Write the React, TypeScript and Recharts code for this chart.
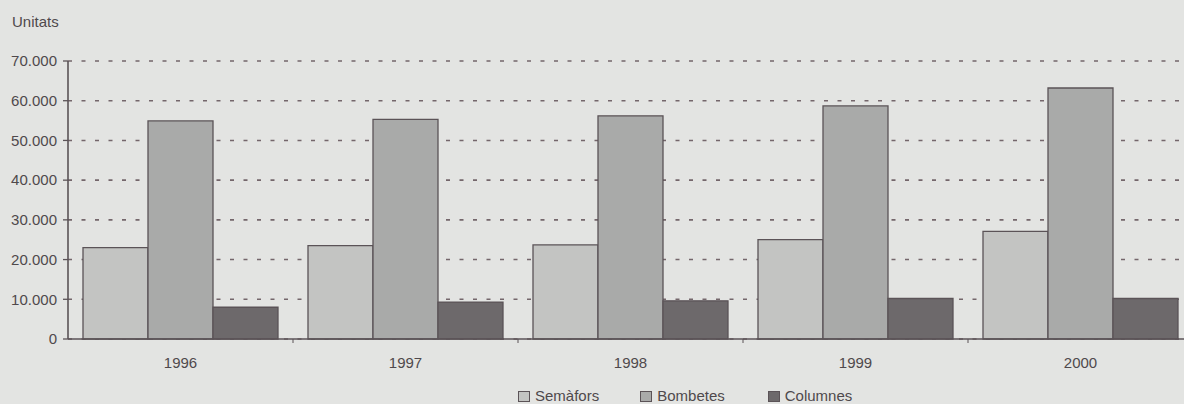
import React from 'react';
import { BarChart, Bar, XAxis, YAxis, CartesianGrid, Legend, Label } from 'recharts';

const years = ['1996', '1997', '1998', '1999', '2000'];
const semafors = [23000, 23500, 23700, 25000, 27100];
const bombetes = [54900, 55300, 56200, 58700, 63200];
const columnes = [8000, 9300, 9600, 10200, 10200];
const yTicks = [0, 10000, 20000, 30000, 40000, 50000, 60000, 70000];

const seriesNames = ['Semàfors', 'Bombetes', 'Columnes'];
const colors = ['#c3c4c2', '#a9aaa9', '#6d696b'];

const data = years.map((y, i) => ({
  year: y,
  s: semafors[i],
  b: bombetes[i],
  c: columnes[i],
}));

const BG = '#e3e4e2';
const INK = '#4f494c';
const STROKE = '#5b5357';
const FONT = '"Liberation Sans", Arial, Helvetica, sans-serif';

const fmt = (v: number) => String(v).replace(/\B(?=(\d{3})+(?!\d))/g, '.');

const XTick = (props: any) => {
  const { x, y, payload, width } = props;
  const half = width ? width / years.length / 2 : 112.5;
  return (
    <g>
      <text x={x} y={y + 29} textAnchor="middle" fill={INK} fontSize={15} fontFamily={FONT}>
        {payload.value}
      </text>
      <line x1={x + half} x2={x + half} y1={y} y2={y + 4} stroke={STROKE} strokeWidth={1} />
    </g>
  );
};

const LegendContent = () => (
  <div style={{ display: 'flex', alignItems: 'center', fontFamily: FONT, fontSize: 15, lineHeight: '14px', color: INK }}>
    {seriesNames.map((n, i) => (
      <div key={n} style={{ display: 'flex', alignItems: 'center', marginRight: i === 0 ? 41 : 43 }}>
        <span
          style={{
            display: 'inline-block',
            width: 12,
            height: 11,
            background: colors[i],
            border: `1px solid ${STROKE}`,
            boxSizing: 'border-box',
            marginRight: 5,
          }}
        />
        <span>{n}</span>
      </div>
    ))}
  </div>
);

export default function App() {
  return (
    <div style={{ position: 'absolute', left: 0, top: 0, width: 1184, height: 404, overflow: 'hidden', background: BG }}>
      <BarChart
        width={1200}
        height={404}
        data={data}
        margin={{ top: 61, right: 7, bottom: 35, left: 0 }}
        barCategoryGap={15}
        barGap={0}
      >
        <CartesianGrid vertical={false} stroke="#74666b" strokeWidth={1.6} strokeDasharray="4 9.5" />
        <XAxis
          dataKey="year"
          height={30}
          tickLine={false}
          tickSize={0}
          tickMargin={0}
          axisLine={{ stroke: STROKE, strokeWidth: 1.6 }}
          tick={<XTick />}
          interval={0}
        />
        <YAxis
          width={68}
          domain={[0, 70000]}
          ticks={yTicks}
          tickFormatter={fmt}
          tickSize={5}
          tickMargin={6}
          axisLine={{ stroke: STROKE, strokeWidth: 1.6 }}
          tickLine={{ stroke: STROKE, strokeWidth: 1.3 }}
          tick={{ fill: INK, fontSize: 15, fontFamily: FONT }}
          interval={0}
        >
          <Label
            content={(p: any) => (
              <text x={12} y={(p.viewBox?.y ?? 61) - 34} fill={INK} fontSize={15} fontFamily={FONT}>
                Unitats
              </text>
            )}
          />
        </YAxis>
        <Legend
          layout="horizontal"
          verticalAlign="middle"
          align="center"
          content={<LegendContent />}
          wrapperStyle={{ position: 'absolute', top: 389, left: 518, width: 'auto', lineHeight: '14px' }}
        />
        <Bar dataKey="s" name={seriesNames[0]} fill={colors[0]} stroke={STROKE} strokeWidth={1.3} isAnimationActive={false} />
        <Bar dataKey="b" name={seriesNames[1]} fill={colors[1]} stroke={STROKE} strokeWidth={1.3} isAnimationActive={false} />
        <Bar dataKey="c" name={seriesNames[2]} fill={colors[2]} stroke={STROKE} strokeWidth={1.3} isAnimationActive={false} />
      </BarChart>
    </div>
  );
}
